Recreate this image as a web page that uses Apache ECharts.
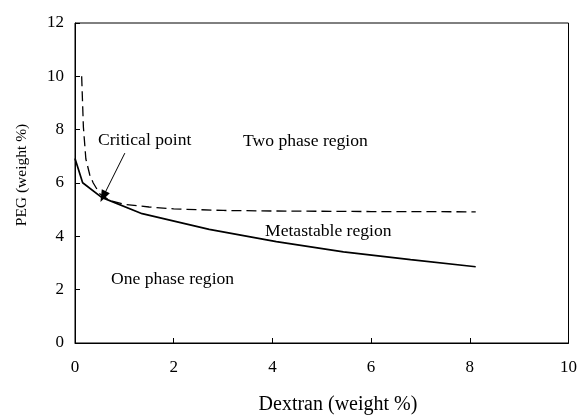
<!DOCTYPE html>
<html>
<head>
<meta charset="utf-8">
<script src="https://cdn.jsdelivr.net/npm/echarts@6/dist/echarts.min.js"></script>
<style>
  html, body { margin: 0; padding: 0; background: #fff; }
  #chart { width: 580px; height: 416px; }
</style>
</head>
<body>
<div id="chart"></div>
<script>
  // binodal (solid) and spinodal-like (dashed) curves
  var binodalX = [0, 0.155, 0.54, 1.36, 2.72, 4.08, 5.44, 6.8, 8.12]
  var binodalY = [6.92, 6.01, 5.46, 4.85, 4.26, 3.8, 3.42, 3.13, 2.86]

  var dashedX = [0.135, 0.17, 0.22, 0.3, 0.37, 0.5, 0.7, 1.0, 1.5, 2.0, 3.0, 4.0, 6.0, 8.12]
  var dashedY = [10.0, 8.1, 6.9, 6.3, 6.0, 5.6, 5.35, 5.2, 5.1, 5.03, 4.97, 4.95, 4.93, 4.92]

  var xTicks = [0, 2, 4, 6, 8, 10]
  var yTicks = [0, 2, 4, 6, 8, 10, 12]

  // arrow: from label to critical point (data units)
  var arrowFrom = [1.01, 7.12]
  var arrowTo = [0.57, 5.49]

  function zip(xs, ys) {
    return xs.map(function (x, i) { return [x, ys[i]] })
  }

  var font = '"Liberation Serif", "DejaVu Serif", serif'
  var myChart = echarts.init(document.getElementById('chart'))

  var option = {
    animation: false,
    backgroundColor: '#fff',
    textStyle: { fontFamily: font },
    grid: {
      left: 75,
      right: 9,
      top: 23,
      bottom: 73,
      show: true,
      borderColor: '#000',
      borderWidth: 1,
      containLabel: false
    },
    xAxis: {
      type: 'value',
      min: xTicks[0],
      max: xTicks[xTicks.length - 1],
      interval: 2,
      axisLine: { show: true, lineStyle: { color: '#000', width: 1 } },
      axisTick: { show: true, inside: true, length: 5, lineStyle: { color: '#000' } },
      axisLabel: { margin: 16, fontFamily: font, fontSize: 17, color: '#000' },
      splitLine: { show: false }
    },
    yAxis: {
      type: 'value',
      min: yTicks[0],
      max: yTicks[yTicks.length - 1],
      interval: 2,
      axisLine: { show: true, lineStyle: { color: '#000', width: 1 } },
      axisTick: { show: true, inside: true, length: 5, lineStyle: { color: '#000' } },
      axisLabel: { margin: 11, fontFamily: font, fontSize: 17, color: '#000' },
      splitLine: { show: false }
    },
    series: [
      {
        name: 'binodal',
        type: 'line',
        symbol: 'none',
        lineStyle: { color: '#000', width: 1.7 },
        data: zip(binodalX, binodalY),
        markLine: {
          silent: true,
          symbol: ['none', 'triangle'],
          symbolSize: [9, 12],
          lineStyle: { color: '#000', width: 1, type: 'solid' },
          label: { show: false },
          data: [[{ coord: arrowFrom }, { coord: arrowTo }]]
        }
      },
      {
        name: 'dashed',
        type: 'line',
        symbol: 'none',
        lineStyle: { color: '#000', width: 1.3, type: [10, 5] },
        data: zip(dashedX, dashedY)
      }
    ],
    graphic: [
      { type: 'text', x: 338, y: 405, style: { text: 'Dextran (weight %)', font: '20px ' + font, fill: '#000', align: 'center', verticalAlign: 'middle' } },
      { type: 'text', x: 22, y: 175, rotation: Math.PI / 2, style: { text: 'PEG (weight %)', font: '15.5px ' + font, fill: '#000', align: 'center', verticalAlign: 'middle' } },
      { type: 'text', left: 98, top: 131, style: { text: 'Critical point', font: '17.6px ' + font, fill: '#000' } },
      { type: 'text', left: 243, top: 132, style: { text: 'Two phase region', font: '17.6px ' + font, fill: '#000' } },
      { type: 'text', left: 265, top: 222, style: { text: 'Metastable region', font: '17.6px ' + font, fill: '#000' } },
      { type: 'text', left: 111, top: 270, style: { text: 'One phase region', font: '17.6px ' + font, fill: '#000' } }
    ]
  }

  myChart.setOption(option)
</script>
</body>
</html>
